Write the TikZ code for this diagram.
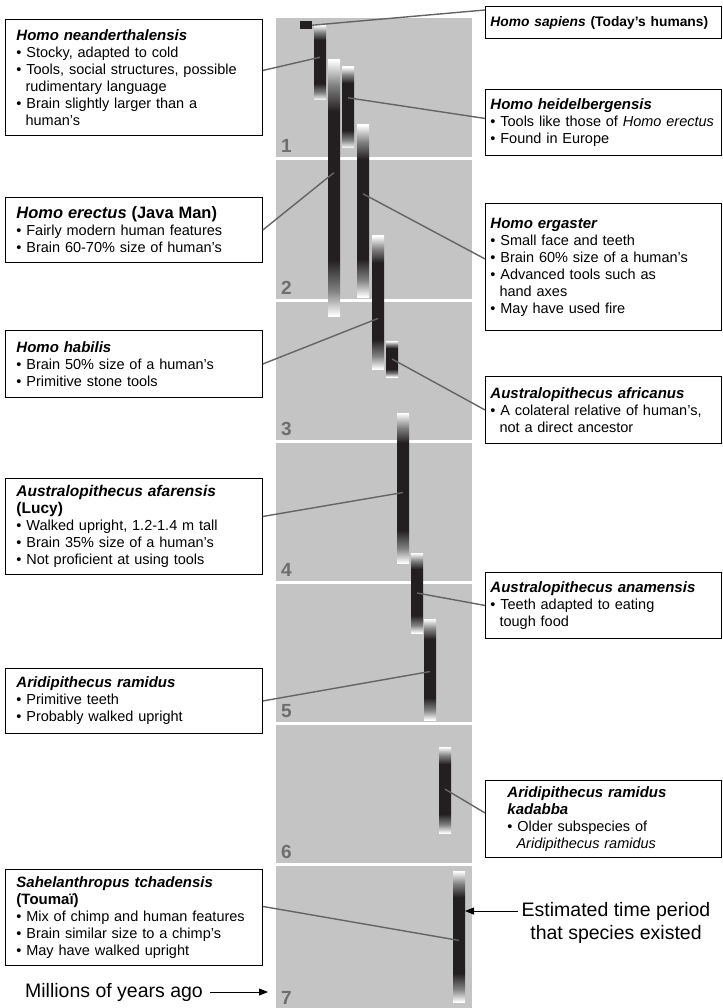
\documentclass[tikz,border=0pt]{standalone}
\usepackage{fontspec}
\setmainfont{Liberation Sans}
\usetikzlibrary{arrows.meta, positioning, calc}
\definecolor{colbg}{RGB}{196,196,196}
\definecolor{bardark}{RGB}{35,31,32}
\definecolor{linkgray}{RGB}{100,100,100}
\definecolor{yrgray}{RGB}{110,110,110}
\pgfdeclareverticalshading{spanbar}{100bp}{color(0bp)=(white); color(25bp)=(white);
  color(30bp)=(black!50); color(36bp)=(bardark); color(65bp)=(bardark);
  color(70bp)=(black!50); color(75bp)=(white); color(100bp)=(white)}
\newcommand{\sptitle}[2][15]{{\fontsize{#1}{17}\selectfont\bfseries #2}}
\newcommand{\spname}[1]{\sptitle{\textit{#1}}}
\newcommand{\spitem}[1]{\par\hangindent=9.1pt\hangafter=1\textbullet\ #1\par}

\begin{document}
\begin{tikzpicture}[x=1pt, y=-1pt,
  lbox/.style={draw, line width=0.9pt, fill=white, anchor=north west, align=left,
               text width=235pt, inner xsep=11pt, inner ysep=5pt,
               font=\fontsize{14.5}{17}\selectfont},
  rbox/.style={lbox, text width=226pt, inner xsep=5pt},
  spanbar/.style={anchor=north west, minimum width=12pt, inner sep=0pt, outer sep=0pt,
                  shade, shading=spanbar},
  link/.style={linkgray, line width=1.4pt},
  pointer/.style={-{Triangle[length=9pt,width=7pt]}, line width=0.8pt},
  yrlabel/.style={anchor=base west, inner sep=0pt, text=yrgray,
                  font=\fontsize{19}{19}\selectfont\bfseries},
  note/.style={inner sep=0pt, align=center, font=\fontsize{19.5}{23}\selectfont}
]
\useasboundingbox (0,0) rectangle (722,1008);
% ----- time column -----
\fill[colbg] (276,18) rectangle (472,1008);
\foreach \k in {1,...,6}{
  \draw[white, line width=3pt] (276,{159+141*(\k-1)}) -- (472,{159+141*(\k-1)});
  \node[yrlabel] (d\k) at (281,{153+141*(\k-1)}) {\k};
}
\node[yrlabel] (d7) at (281,1004) {7};
% ----- species bars -----
\node[anchor=north west, minimum width=12pt, minimum height=8pt, inner sep=0pt,
      fill=bardark] (bsap) at (300,21) {};
\node[spanbar, minimum height=75pt]  (bnean)  at (314,25)  {};
\node[spanbar, minimum height=256pt] (berect) at (328,60)  {};
\node[spanbar, minimum height=81pt]  (bheid)  at (342,67)  {};
\node[spanbar, minimum height=172pt] (bergas) at (357,125) {};
\node[spanbar, minimum height=133pt] (bhab)   at (372,236) {};
\node[spanbar, minimum height=36pt]  (bafric) at (386,341) {};
\node[spanbar, minimum height=150pt] (bafar)  at (397,413) {};
\node[spanbar, minimum height=80pt]  (banam)  at (411,553) {};
\node[spanbar, minimum height=101pt] (bram)   at (424,619) {};
\node[spanbar, minimum height=86pt]  (bkad)   at (439,747) {};
\node[spanbar, minimum height=131pt] (bsahel) at (453,871) {};
% ----- left boxes -----
\node[lbox, minimum height=116pt] (lnean) at (5,19) {\spname{Homo neanderthalensis}
  \spitem{Stocky, adapted to cold}
  \spitem{Tools, social structures, possible\newline rudimentary language}
  \spitem{Brain slightly larger than a\newline human's}};
\node[lbox, minimum height=65pt] (lerect) at (5,197) {\sptitle[16.5]{\textit{Homo erectus} (Java Man)}
  \spitem{Fairly modern human features}
  \spitem{Brain 60-70\% size of human's}};
\node[lbox, minimum height=67pt] (lhab) at (5,330) {\spname{Homo habilis}
  \spitem{Brain 50\% size of a human's}
  \spitem{Primitive stone tools}};
\node[lbox, minimum height=96pt] (lafar) at (5,478) {\sptitle[15.5]{\textit{Australopithecus afarensis}\newline (Lucy)}
  \spitem{Walked upright, 1.2-1.4 m tall}
  \spitem{Brain 35\% size of a human's}
  \spitem{Not proficient at using tools}};
\node[lbox, minimum height=65pt] (lram) at (5,668) {\spname{Aridipithecus ramidus}
  \spitem{Primitive teeth}
  \spitem{Probably walked upright}};
\node[lbox, minimum height=96pt] (lsahel) at (5,869) {\sptitle{\textit{Sahelanthropus tchadensis}\newline (Toumaï)}
  \spitem{Mix of chimp and human features}
  \spitem{Brain similar size to a chimp's}
  \spitem{May have walked upright}};
% ----- right boxes -----
\node[rbox, minimum height=32pt] (rsap) at (485,6) {\sptitle[13.8]{\textit{Homo sapiens} (Today's humans)}};
\node[rbox, minimum height=66pt] (rheid) at (485,89) {\spname{Homo heidelbergensis}
  \spitem{Tools like those of \textit{Homo erectus}}
  \spitem{Found in Europe}};
\node[rbox, minimum height=127pt] (rergas) at (485,203) {\spname{Homo ergaster}
  \spitem{Small face and teeth}
  \spitem{Brain 60\% size of a human's}
  \spitem{Advanced tools such as\newline hand axes}
  \spitem{May have used fire}};
\node[rbox, minimum height=67pt] (rafric) at (485,376) {\spname{Australopithecus africanus}
  \spitem{A colateral relative of human's,\newline not a direct ancestor}};
\node[rbox, minimum height=66pt] (ranam) at (485,572) {\spname{Australopithecus anamensis}
  \spitem{Teeth adapted to eating\newline tough food}};
\node[rbox, minimum height=77pt, inner xsep=22pt, text width=192pt] (rkad) at (485,780)
  {\spname{Aridipithecus ramidus\newline kadabba}
  \spitem{Older subspecies of\newline \textit{Aridipithecus ramidus}}};
% ----- connectors -----
\draw[link] (bsap.east) -- ([yshift=-4pt]rsap.north west);
\draw[link] ([yshift=7pt]lnean.east) -- ($(bnean.north)!0.43!(bnean.south)$);
\draw[link] (lerect.east) -- ($(berect.north)!0.44!(berect.south)$);
\draw[link] ($(bheid.north)!0.38!(bheid.south)$) -- ([yshift=4pt]rheid.west);
\draw[link] ($(bergas.north)!0.40!(bergas.south)$) -- ([yshift=8pt]rergas.west);
\draw[link] (lhab.east) -- ($(bhab.north)!0.62!(bhab.south)$);
\draw[link] ($(bafric.north)!0.5!(bafric.south)$) -- (rafric.west);
\draw[link] ([yshift=10pt]lafar.east) -- ($(bafar.north)!0.53!(bafar.south)$);
\draw[link] ($(banam.north)!0.5!(banam.south)$) -- (ranam.west);
\draw[link] (lram.east) -- ($(bram.north)!0.52!(bram.south)$);
\draw[link] ($(bkad.north)!0.49!(bkad.south)$) -- ([yshift=6pt]rkad.west);
\draw[link] ([yshift=11pt]lsahel.east) -- ($(bsahel.north)!0.53!(bsahel.south)$);
% ----- notes -----
\node[note] (estnote) at (616,923) {Estimated time period\\that species existed};
\draw[pointer] ([xshift=-4pt,yshift=12pt]estnote.west) coordinate (estfrom)
  -- (estfrom -| bsahel.east);
\node[note] (myatext) at (114,992) {Millions of years ago};
\draw[pointer, shorten >=13pt] ([xshift=7pt]myatext.east) -- (myatext.east -| d7.west);
\end{tikzpicture}
\end{document}
